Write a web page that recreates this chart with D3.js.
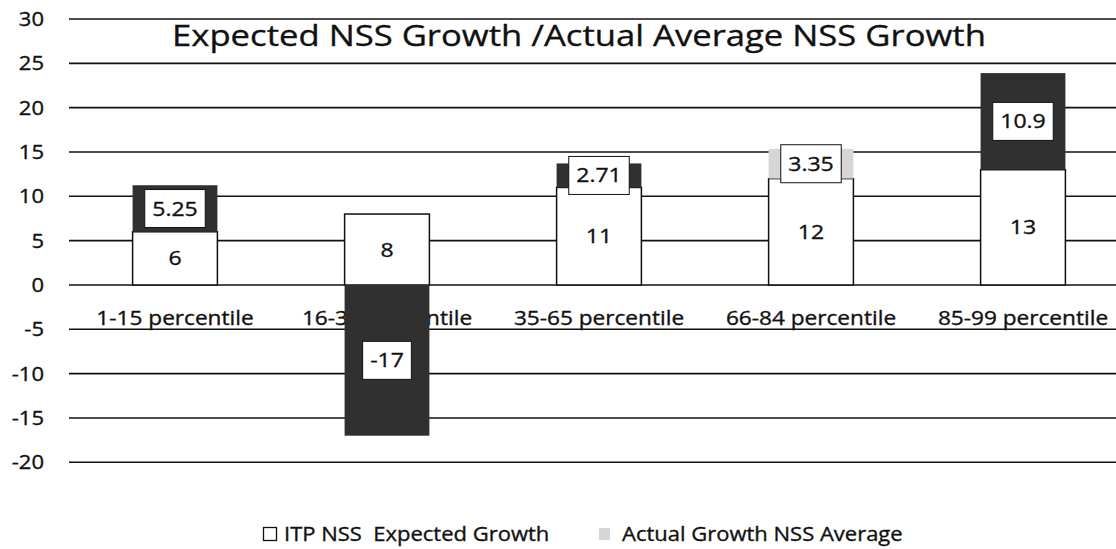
<!DOCTYPE html>
<html>
<head>
<meta charset="utf-8">
<script src="https://cdn.jsdelivr.net/npm/d3@7"></script>
<style>
  body { margin: 0; background: #fff; }
  svg { display: block; font-family: "Open Sans", Lato, sans-serif; }
</style>
</head>
<body>
<svg id="chart" width="1116" height="549"></svg>
<script>
// chart data
const categories = ["1-15 percentile", "16-34 percentile", "35-65 percentile", "66-84 percentile", "85-99 percentile"];
const expectedGrowth = [6, 8, 11, 12, 13];
const actualGrowth = [5.25, -17, 2.71, 3.35, 10.9];
const seriesNames = ["ITP NSS  Expected Growth", "Actual Growth NSS Average"];
const yTicks = [30, 25, 20, 15, 10, 5, 0, -5, -10, -15, -20];

// the scan shows the actual segments in two shades
const actualFills = ["#303030", "#303030", "#303030", "#d6d6d6", "#303030"];
const legendFill = "#d6d6d6";
const ink = "#111";

const svg = d3.select("#chart");
const left = 69, right = 1129;

// the scanned text is a bit wider and heavier than the font, so stretch it sideways
function label(parent, x, y, str, size, anchor, sx) {
    return parent.append("text")
        .attr("transform", `translate(${x},${y}) scale(${sx},1)`)
        .attr("dy", "0.35em")
        .attr("text-anchor", anchor)
        .attr("font-size", size)
        .attr("fill", ink)
        .attr("stroke", ink)
        .attr("stroke-width", 0.35)
        .style("white-space", "pre")
        .text(str);
}

const x = d3.scaleBand()
    .domain(categories)
    .range([left, right])
    .paddingInner(0.6)
    .paddingOuter(0.3);

const y = d3.scaleLinear()
    .domain([-20, 30])
    .range([462.3, 19]);

// gridlines
svg.append("g")
    .selectAll("line")
    .data(yTicks)
    .enter()
    .append("line")
    .attr("x1", left)
    .attr("x2", 1116)
    .attr("y1", d => y(d))
    .attr("y2", d => y(d))
    .attr("stroke", ink)
    .attr("stroke-width", 1.6);

// y axis labels
const yLab = svg.append("g");
yTicks.forEach(t => label(yLab, 44, y(t), t, 20, "end", 1.1));

// category labels sit under the bars
const xLab = svg.append("g");
categories.forEach(c => label(xLab, x(c) + x.bandwidth() / 2, y(0) + 33, c, 19.5, "middle", 1.16));

// title
label(svg, 579, 35, "Expected NSS Growth /Actual Average NSS Growth", 30, "middle", 1.155);

// stacked bars, negatives going down from zero
const rows = categories.map((c, i) => ({ cat: c, expected: expectedGrowth[i], actual: actualGrowth[i] }));
const stack = d3.stack()
    .keys(["expected", "actual"])
    .offset(d3.stackOffsetDiverging);
const layers = stack(rows);

const bars = svg.append("g");
// expected (white, outlined)
bars.selectAll("rect.exp")
    .data(layers[0])
    .enter()
    .append("rect")
    .attr("class", "exp")
    .attr("x", d => x(d.data.cat))
    .attr("width", x.bandwidth())
    .attr("y", d => y(Math.max(d[0], d[1])))
    .attr("height", d => Math.abs(y(d[0]) - y(d[1])))
    .attr("fill", "#fff")
    .attr("stroke", ink)
    .attr("stroke-width", 1.5);

// actual
bars.selectAll("rect.act")
    .data(layers[1])
    .enter()
    .append("rect")
    .attr("class", "act")
    .attr("x", d => x(d.data.cat))
    .attr("width", x.bandwidth())
    .attr("y", d => y(Math.max(d[0], d[1])))
    .attr("height", d => Math.abs(y(d[0]) - y(d[1])))
    .attr("fill", (d, i) => actualFills[i]);

// data labels
const labels = svg.append("g");
const sxLab = 1.15;
layers.forEach((layer, li) => {
    layer.forEach(d => {
        const cx = x(d.data.cat) + x.bandwidth() / 2;
        const cy = y((d[0] + d[1]) / 2);
        const val = li === 0 ? d.data.expected : d.data.actual;
        const g = labels.append("g");
        const t = label(g, cx, cy, val, 20, "middle", sxLab);
        if (li === 1) {
            const w = t.node().getComputedTextLength() * sxLab + 15;
            g.insert("rect", "text")
                .attr("x", cx - w / 2)
                .attr("y", cy - 19)
                .attr("width", w)
                .attr("height", 38)
                .attr("fill", "#fff")
                .attr("stroke", ink)
                .attr("stroke-width", 1);
        }
    });
});

// legend
const legend = svg.append("g").attr("transform", "translate(0,534)");
legend.append("rect")
    .attr("x", 263.5).attr("y", -6.5).attr("width", 13).attr("height", 13)
    .attr("fill", "#fff").attr("stroke", ink).attr("stroke-width", 1.3);
label(legend, 284, 0, seriesNames[0], 20, "start", 1.1);
legend.append("rect")
    .attr("x", 599).attr("y", -6).attr("width", 11).attr("height", 12)
    .attr("fill", legendFill);
label(legend, 622, 0, seriesNames[1], 20, "start", 1.1);
</script>
</body>
</html>
